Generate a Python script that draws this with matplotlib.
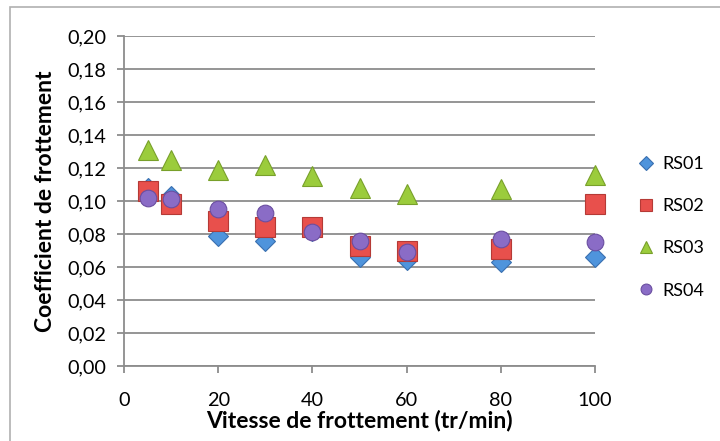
#!/usr/bin/env python

# Coefficient de frottement vs vitesse, four samples (RS01..RS04)

import matplotlib
matplotlib.use('Agg')
import matplotlib.pyplot as plt
from matplotlib.patches import Rectangle
from matplotlib.ticker import FuncFormatter

# Data
vitesse = [5, 10, 20, 30, 40, 50, 60, 80, 100]
rs01 = [0.108, 0.103, 0.079, 0.076, 0.082, 0.066, 0.064, 0.063, 0.066]
rs02 = [0.106, 0.098, 0.088, 0.084, 0.084, 0.073, 0.070, 0.071, 0.098]
rs03 = [0.131, 0.125, 0.119, 0.122, 0.115, 0.108, 0.104, 0.107, 0.116]
rs04 = [0.102, 0.101, 0.095, 0.093, 0.081, 0.076, 0.069, 0.077, 0.075]
labels = ['RS01', 'RS02', 'RS03', 'RS04']

plt.rcParams['font.family'] = ['Lato', 'DejaVu Sans']

fig = plt.figure(figsize=(7.2, 4.41), dpi=100)
ax = fig.add_axes([124/720, 1-366/441, (595-124)/720, (366-36)/441])

# outer chart border
fig.patches.append(Rectangle((10/720, -0.02), 1.02, 1-7/441+0.02,
                             transform=fig.transFigure, fill=False,
                             edgecolor='#b0b0b0', linewidth=1.2))

series = [
    (rs01, 'D', 10.5, '#4f94dc', '#3a70b0'),
    (rs02, 's', 14, '#e8504c', '#b53a36'),
    (rs03, '^', 14, '#9bcc3c', '#78a02a'),
    (rs04, 'o', 12, '#8a6cc6', '#6a4ea0'),
]
for (vals, mk, ms, fc, ec), lab in zip(series, labels):
    ax.plot(vitesse, vals, linestyle='none', marker=mk, markersize=ms,
            markerfacecolor=fc, markeredgecolor=ec, markeredgewidth=0.8,
            label=lab, zorder=3, clip_on=False)

ax.set_xlim(0, 100)
ax.set_ylim(0, 0.2)
ax.set_xticks(range(0, 101, 20))
ax.set_yticks([i*0.02 for i in range(11)])
ax.yaxis.set_major_formatter(FuncFormatter(lambda v, p: ('%.2f' % v).replace('.', ',')))
ax.grid(axis='y', color='#8c8c8c', linewidth=1.3, zorder=0)
ax.set_axisbelow(True)
for s in ['top', 'right']:
    ax.spines[s].set_visible(False)
for s in ['left', 'bottom']:
    ax.spines[s].set_color('#8c8c8c')
    ax.spines[s].set_linewidth(1.3)
ax.tick_params(axis='both', colors='#8c8c8c', length=5, width=1.3,
               labelcolor='black', labelsize=14.3, pad=8)
ax.tick_params(axis='x', pad=14)

ax.set_xlabel('Vitesse de frottement (tr/min)', fontsize=16.5,
              fontweight='bold', labelpad=0)
ax.set_ylabel('Coefficient de frottement', fontsize=16.5,
              fontweight='bold', labelpad=8)

leg = ax.legend(loc='center left', bbox_to_anchor=(1.05, 0.42),
                frameon=False, labelspacing=1.45, markerscale=0.65,
                handletextpad=0.3, fontsize=13, handlelength=1.2)

fig.savefig('out.png', dpi=100)
